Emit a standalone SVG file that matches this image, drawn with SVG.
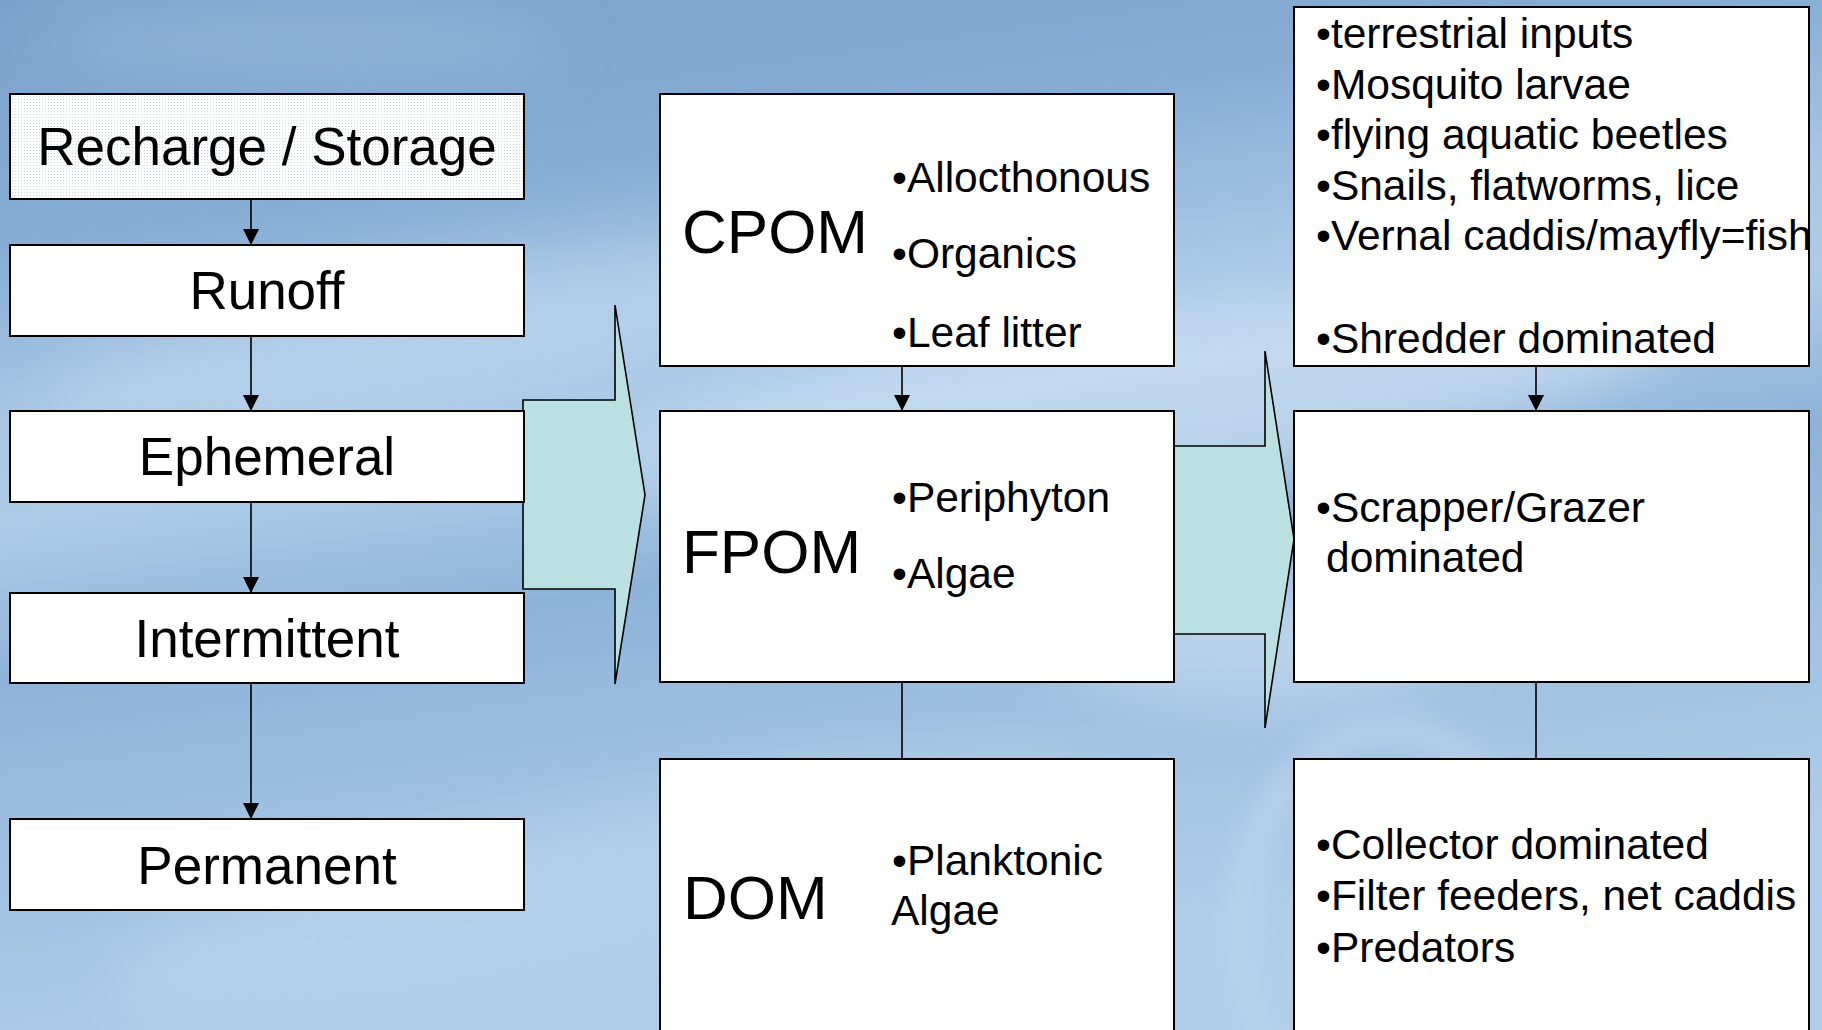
<svg xmlns="http://www.w3.org/2000/svg" width="1822" height="1030" viewBox="0 0 1822 1030">
<defs>
<linearGradient id="bg" x1="0" y1="0" x2="0.25" y2="1">
<stop offset="0" stop-color="#7BA2CC"/>
<stop offset="0.22" stop-color="#86ACD4"/>
<stop offset="0.38" stop-color="#A6C6E4"/>
<stop offset="0.48" stop-color="#AECCE8"/>
<stop offset="0.62" stop-color="#8EB3D8"/>
<stop offset="0.8" stop-color="#A0C1E1"/>
<stop offset="1" stop-color="#B0CDE9"/>
</linearGradient>
<filter id="blur" x="-50%" y="-50%" width="200%" height="200%"><feGaussianBlur stdDeviation="30"/></filter>
<filter id="blur2" x="-50%" y="-50%" width="200%" height="200%"><feGaussianBlur stdDeviation="12"/></filter>
<pattern id="dots" width="3" height="3" patternUnits="userSpaceOnUse">
<rect width="3" height="3" fill="#FFFFFF"/>
<rect width="1" height="1" fill="#C9D9EC"/>
</pattern>
<marker id="ah" viewBox="0 0 16 16" refX="16" refY="8" markerWidth="16" markerHeight="16" markerUnits="userSpaceOnUse" orient="auto">
<path d="M0,0 L16,8 L0,16 z" fill="#000"/>
</marker>
<style>
.box{fill:#FFFFFF;stroke:#000;stroke-width:2}
.big{font-family:"Liberation Sans",Arial,sans-serif;font-size:53px;fill:#000;text-anchor:middle}
.abbr{font-family:"Liberation Sans",Arial,sans-serif;font-size:62px;fill:#000}
.item{font-family:"Liberation Sans",Arial,sans-serif;font-size:42.5px;fill:#000}
.conn{stroke:#000;stroke-width:1.6;fill:none}
.flow{fill:#BBE0E2;stroke:#000;stroke-width:1.6}
</style>
</defs>
<g id="background">
<rect width="1822" height="1030" fill="url(#bg)"/>
<ellipse cx="1150" cy="400" rx="520" ry="90" fill="#D4E6F5" opacity="0.55" filter="url(#blur)" transform="rotate(-8 1150 400)"/>
<ellipse cx="450" cy="330" rx="420" ry="60" fill="#C9DEF1" opacity="0.45" filter="url(#blur)" transform="rotate(-10 450 330)"/>
<ellipse cx="600" cy="880" rx="500" ry="70" fill="#C4DBF0" opacity="0.45" filter="url(#blur)" transform="rotate(-12 600 880)"/>
<ellipse cx="1250" cy="640" rx="200" ry="60" fill="#D8E8F6" opacity="0.5" filter="url(#blur)"/>
<ellipse cx="300" cy="40" rx="260" ry="40" fill="#9DBDDD" opacity="0.5" filter="url(#blur)"/>
<ellipse cx="1390" cy="930" rx="150" ry="200" fill="none" stroke="#C6DCF0" stroke-width="25" opacity="0.5" filter="url(#blur2)"/>
</g>
<g id="flow-arrows">
<path id="flow-left" class="flow" d="M523,400 L615,400 L615,305 L645,495 L615,684 L615,589 L523,589 Z"/>
<path id="flow-right" class="flow" d="M1174,446 L1265,446 L1265,351 L1294,539 L1265,728 L1265,634 L1174,634 Z"/>
</g>
<g id="connectors">
<line class="conn" x1="251" y1="199" x2="251" y2="245" marker-end="url(#ah)"/>
<line class="conn" x1="251" y1="336" x2="251" y2="411" marker-end="url(#ah)"/>
<line class="conn" x1="251" y1="502" x2="251" y2="593" marker-end="url(#ah)"/>
<line class="conn" x1="251" y1="683" x2="251" y2="819" marker-end="url(#ah)"/>
<line class="conn" x1="902" y1="366" x2="902" y2="411" marker-end="url(#ah)"/>
<line class="conn" x1="902" y1="682" x2="902" y2="759"/>
<line class="conn" x1="1536" y1="366" x2="1536" y2="411" marker-end="url(#ah)"/>
<line class="conn" x1="1536" y1="682" x2="1536" y2="759"/>
</g>
<g id="recharge">
<rect x="10" y="94" width="514" height="105" fill="url(#dots)" stroke="#000" stroke-width="2"/>
<text class="big" x="267" y="165">Recharge / Storage</text>
</g>
<g id="runoff">
<rect class="box" x="10" y="245" width="514" height="91"/>
<text class="big" x="267" y="309">Runoff</text>
</g>
<g id="ephemeral">
<rect class="box" x="10" y="411" width="514" height="91"/>
<text class="big" x="267" y="475">Ephemeral</text>
</g>
<g id="intermittent">
<rect class="box" x="10" y="593" width="514" height="90"/>
<text class="big" x="267" y="657">Intermittent</text>
</g>
<g id="permanent">
<rect class="box" x="10" y="819" width="514" height="91"/>
<text class="big" x="267" y="884">Permanent</text>
</g>
<g id="cpom">
<rect class="box" x="660" y="94" width="514" height="272"/>
<text class="abbr" x="682" y="253">CPOM</text>
<text class="item" x="892" y="192">•Allocthonous</text>
<text class="item" x="892" y="268">•Organics</text>
<text class="item" x="892" y="347">•Leaf litter</text>
</g>
<g id="fpom">
<rect class="box" x="660" y="411" width="514" height="271"/>
<text class="abbr" x="682" y="573">FPOM</text>
<text class="item" x="892" y="512">•Periphyton</text>
<text class="item" x="892" y="588">•Algae</text>
</g>
<g id="dom">
<rect class="box" x="660" y="759" width="514" height="300"/>
<text class="abbr" x="683" y="919">DOM</text>
<text class="item" x="892" y="875">•Planktonic</text>
<text class="item" x="891" y="925">Algae</text>
</g>
<g id="shredder">
<rect class="box" x="1294" y="7" width="515" height="359"/>
<text class="item" x="1316" y="48">•terrestrial inputs</text>
<text class="item" x="1316" y="99">•Mosquito larvae</text>
<text class="item" x="1316" y="149">•flying aquatic beetles</text>
<text class="item" x="1316" y="200">•Snails, flatworms, lice</text>
<text class="item" x="1316" y="250">•Vernal caddis/mayfly=fish</text>
<text class="item" x="1316" y="353">•Shredder dominated</text>
</g>
<g id="scrapper">
<rect class="box" x="1294" y="411" width="515" height="271"/>
<text class="item" x="1316" y="522">•Scrapper/Grazer</text>
<text class="item" x="1326" y="572">dominated</text>
</g>
<g id="collector">
<rect class="box" x="1294" y="759" width="515" height="300"/>
<text class="item" x="1316" y="859">•Collector dominated</text>
<text class="item" x="1316" y="910">•Filter feeders, net caddis</text>
<text class="item" x="1316" y="962">•Predators</text>
</g>
</svg>
